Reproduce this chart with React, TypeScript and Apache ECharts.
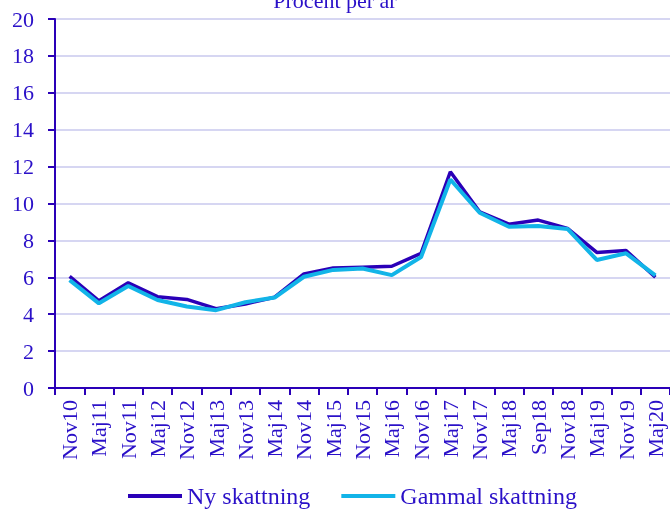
import React, { useEffect, useRef } from "react";
import * as echarts from "echarts";

const categories = ["Nov10","Maj11","Nov11","Maj12","Nov12","Maj13","Nov13","Maj14","Nov14","Maj15","Nov15","Maj16","Nov16","Maj17","Nov17","Maj18","Sep18","Nov18","Maj19","Nov19","Maj20"];
const nySkattning = [6.05,4.73,5.7,4.95,4.8,4.3,4.55,4.92,6.18,6.5,6.55,6.6,7.3,11.72,9.55,8.88,9.1,8.65,7.35,7.45,6.0];
const gammalSkattning = [5.85,4.59,5.53,4.77,4.42,4.22,4.65,4.9,6.03,6.4,6.48,6.12,7.1,11.3,9.5,8.74,8.78,8.62,6.94,7.3,6.1];
const yTicks = { min: 0, max: 20, interval: 2 };

const TXT = "#2a10c8";
const DARK = "#2a00b8";
const CYAN = "#12b4e8";
const FONT = "Liberation Serif";

export default function App() {
  const ref = useRef<HTMLDivElement>(null);
  useEffect(() => {
    const chart = echarts.init(ref.current!, null, { renderer: "svg" });
    chart.setOption({
      animation: false,
      textStyle: { fontFamily: FONT },
      title: {
        text: "Procent per år",
        left: "center",
        top: -16,
        textStyle: { color: TXT, fontSize: 22, fontWeight: "normal", fontFamily: FONT },
      },
      grid: { left: 55, right: 0, top: 19, bottom: 128, containLabel: false },
      legend: {
        bottom: 3,
        left: 123,
        icon: "rect",
        itemWidth: 54,
        itemHeight: 4,
        itemGap: 31,
        textStyle: { color: TXT, fontSize: 24, fontFamily: FONT, padding: [0, 0, 0, 0] },
        data: ["Ny skattning", "Gammal skattning"],
      },
      xAxis: {
        type: "category",
        data: categories,
        boundaryGap: true,
        axisLine: { lineStyle: { color: DARK, width: 2 } },
        axisTick: { show: true, length: 7, lineStyle: { color: DARK, width: 2 } },
        axisLabel: { rotate: 90, color: TXT, fontSize: 22, fontFamily: FONT, margin: 12, interval: 0 },
        splitLine: { show: false },
      },
      yAxis: {
        type: "value",
        min: yTicks.min,
        max: yTicks.max,
        interval: yTicks.interval,
        axisLine: { show: true, lineStyle: { color: DARK, width: 2 } },
        axisTick: { show: true, length: 7, lineStyle: { color: DARK, width: 2 } },
        axisLabel: { color: TXT, fontSize: 22, fontFamily: FONT, margin: 21 },
        splitLine: { show: true, lineStyle: { color: "#d6d6f2", width: 2 } },
      },
      series: [
        {
          name: "Ny skattning",
          type: "line",
          data: nySkattning,
          symbol: "none",
          color: DARK,
          lineStyle: { color: DARK, width: 3.5 },
        },
        {
          name: "Gammal skattning",
          type: "line",
          data: gammalSkattning,
          symbol: "none",
          color: CYAN,
          lineStyle: { color: CYAN, width: 4 },
        },
      ],
    });
    return () => chart.dispose();
  }, []);
  return <div ref={ref} style={{ position: "fixed", left: 0, top: 0, width: 670, height: 516 }} />;
}
